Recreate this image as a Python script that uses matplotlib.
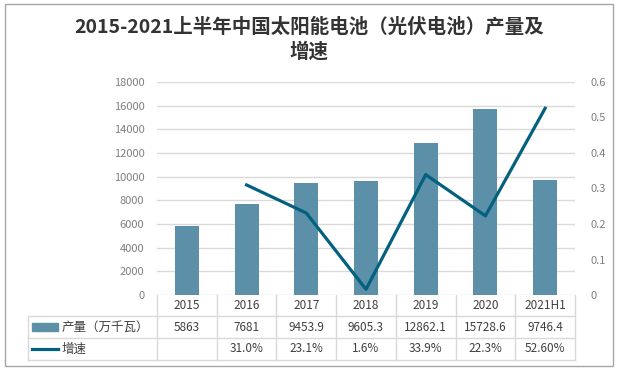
#************ 太阳能电池产量及增速 柱线图 + 数据表 ***************

import numpy as np
import matplotlib.pyplot as plt
from matplotlib.patches import Rectangle
from matplotlib.lines import Line2D

plt.rcParams['font.family'] = ['Noto Sans CJK SC', 'DejaVu Sans']

# data
years = ['2015', '2016', '2017', '2018', '2019', '2020', '2021H1']
output = [5863, 7681, 9453.9, 9605.3, 12862.1, 15728.6, 9746.4]
output_labels = ['5863', '7681', '9453.9', '9605.3', '12862.1', '15728.6', '9746.4']
growth = [np.nan, 0.310, 0.231, 0.016, 0.339, 0.223, 0.526]
growth_labels = ['', '31.0%', '23.1%', '1.6%', '33.9%', '22.3%', '52.60%']
row_names = ['产量（万千瓦）', '增速']

bar_color = '#5B90A8'
line_color = '#03607E'
grid_color = '#D9D9D9'
tick_color = '#808080'
text_color = '#404040'

W, H = 618, 372
fig = plt.figure(figsize=(W / 100, H / 100), dpi=100)

# plot area in pixels: x 157..575, y 82..295
ax = fig.add_axes([157 / W, 77 / H, 418 / W, 213 / H])
x = np.arange(len(years))
ax.bar(x, output, width=0.4, color=bar_color, zorder=2)
ax.set_xlim(-0.5, len(years) - 0.5)
ax.set_ylim(0, 18000)
ax.set_yticks(range(0, 18001, 2000))
ax.set_xticks([])
ax.yaxis.grid(True, color=grid_color, lw=1)
ax.set_axisbelow(True)
for s in ax.spines.values():
    s.set_visible(False)
ax.tick_params(axis='y', length=0, pad=9, labelcolor=tick_color, labelsize=8)

ax2 = ax.twinx()
ax2.plot(x, growth, color=line_color, lw=2.3, zorder=3)
ax2.set_ylim(0, 0.6)
ax2.set_yticks([0, 0.1, 0.2, 0.3, 0.4, 0.5, 0.6])
ax2.set_yticklabels(['0', '0.1', '0.2', '0.3', '0.4', '0.5', '0.6'])
for s in ax2.spines.values():
    s.set_visible(False)
ax2.tick_params(axis='y', length=0, pad=11, labelcolor=tick_color, labelsize=8)

# data table below the axes
rows_y = [0, -0.0986, -0.2019, -0.305]
left = (28 - 157) / 418
tr = ax.get_xaxis_transform()
for yy in rows_y[1:]:
    ax.add_line(Line2D([left, 1], [yy, yy], transform=ax.transAxes,
                       color=grid_color, lw=1, clip_on=False))
for b in np.arange(len(years) + 1) - 0.5:
    ax.add_line(Line2D([b, b], [0, rows_y[-1]], transform=tr,
                       color=grid_color, lw=1, clip_on=False))
ax.add_line(Line2D([left, left], [rows_y[1], rows_y[-1]], transform=ax.transAxes,
                   color=grid_color, lw=1, clip_on=False))

mids = [(rows_y[i] + rows_y[i + 1]) / 2 for i in range(3)]
for i in range(len(years)):
    ax.text(x[i], mids[0], years[i], transform=tr, ha='center', va='center',
            fontsize=8.5, color=text_color)
    ax.text(x[i], mids[1], output_labels[i], transform=tr, ha='center', va='center',
            fontsize=8.5, color=text_color)
    ax.text(x[i], mids[2], growth_labels[i], transform=tr, ha='center', va='center',
            fontsize=8.5, color=text_color)

# legend keys in the row labels
kx0 = (32 - 157) / 418
kw = 26 / 418
ax.add_patch(Rectangle((kx0, mids[1] - 0.0165), kw, 0.033, transform=ax.transAxes,
                       color=bar_color, clip_on=False))
ax.add_line(Line2D([kx0, kx0 + kw], [mids[2], mids[2]], transform=ax.transAxes,
                   color=line_color, lw=2.3, clip_on=False))
tx = (62 - 157) / 418
ax.text(tx, mids[1], row_names[0], transform=ax.transAxes, ha='left', va='center',
        fontsize=9, color=text_color)
ax.text(tx, mids[2], row_names[1], transform=ax.transAxes, ha='left', va='center',
        fontsize=9, color=text_color)

# title
fig.text(0.5, 1 - 39.5 / H, '2015-2021上半年中国太阳能电池（光伏电池）产量及\n增速',
         ha='center', va='center', multialignment='center', fontsize=14,
         fontweight='bold', color='#333333', linespacing=1.3)

# outer border
fig.add_artist(Rectangle((5 / W, 6 / H), 608 / W, 362 / H, transform=fig.transFigure,
                         fill=False, edgecolor='#A6A6A6', lw=1))

fig.savefig('out.png', dpi=100)
